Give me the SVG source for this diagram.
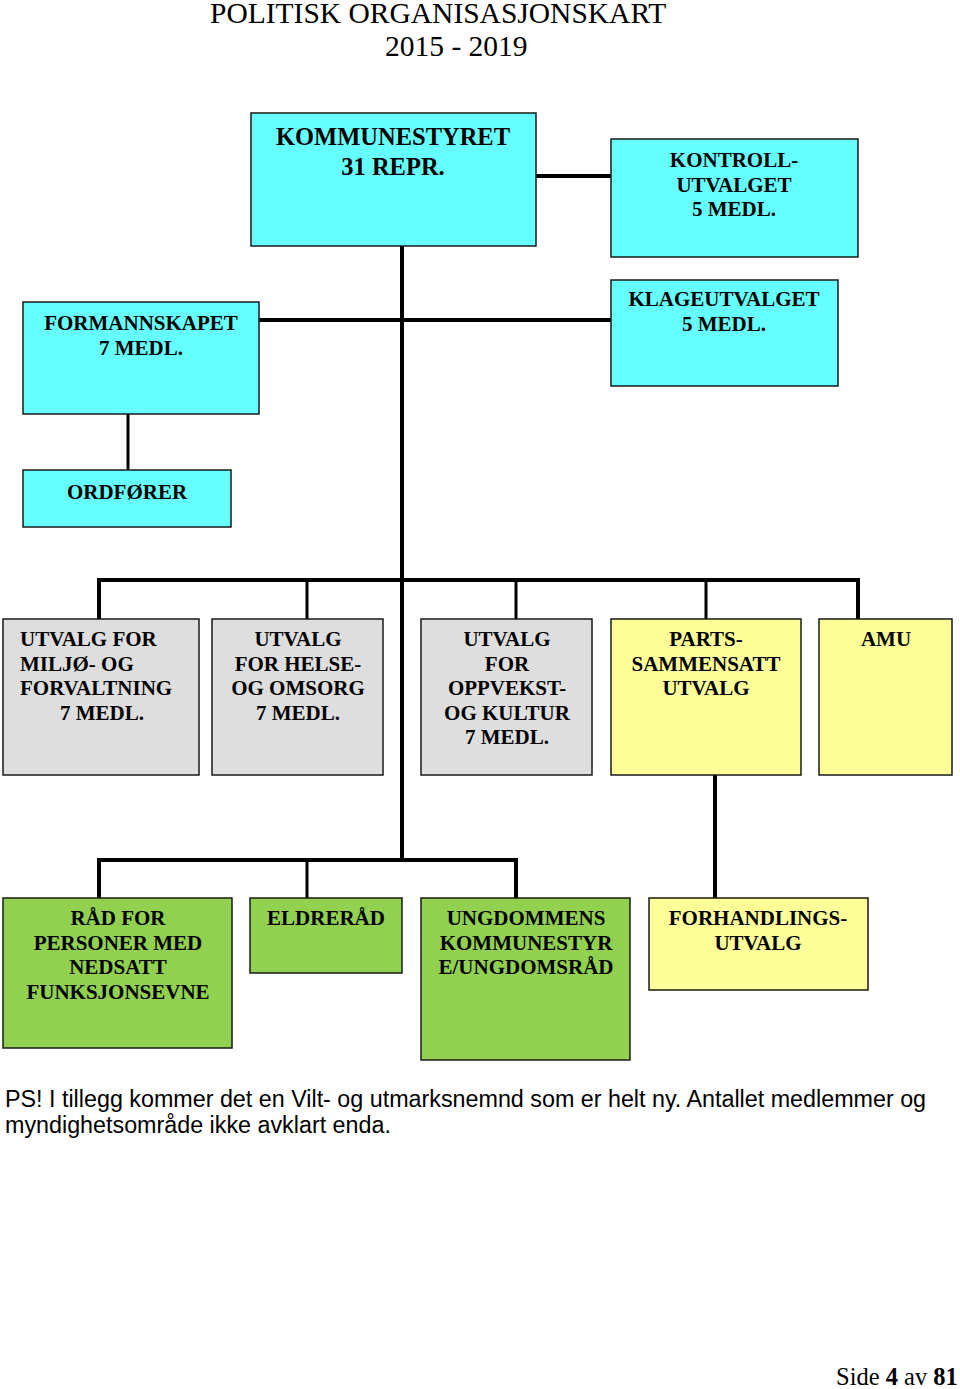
<svg xmlns="http://www.w3.org/2000/svg" width="960" height="1389" viewBox="0 0 960 1389">
<style>
.box{stroke:#1a1a1a;stroke-width:1.5}
.cy{fill:#66ffff}
.gr{fill:#dedede}
.ye{fill:#ffff99}
.gn{fill:#92d050}
.t{font-family:"Liberation Serif","Times New Roman",serif;font-weight:bold;font-size:21px;fill:#000;text-anchor:middle}
.tl{text-anchor:start}
.ln{stroke:#000;fill:none;stroke-width:4}
.ln3{stroke:#000;fill:none;stroke-width:3}
.title{font-family:"Liberation Serif","Times New Roman",serif;font-size:29.5px;fill:#000}
.ps{font-family:"Liberation Sans",Arial,sans-serif;font-size:23.3px;fill:#000}
.pg{font-family:"Liberation Serif","Times New Roman",serif;font-size:24.5px;fill:#000}
</style>
<rect width="960" height="1389" fill="#fff"/>
<text class="title" x="210" y="23">POLITISK ORGANISASJONSKART</text>
<text class="title" x="385" y="56">2015 - 2019</text>

<g id="connectors">
<line class="ln" x1="536" y1="176" x2="611" y2="176"/>
<line class="ln" x1="402" y1="246" x2="402" y2="862"/>
<line class="ln" x1="259" y1="320" x2="611" y2="320"/>
<line class="ln3" x1="128" y1="414" x2="128" y2="470"/>
<line class="ln" x1="97" y1="580" x2="860" y2="580"/>
<line class="ln" x1="99" y1="578" x2="99" y2="619"/>
<line class="ln3" x1="307" y1="580" x2="307" y2="619"/>
<line class="ln3" x1="516" y1="580" x2="516" y2="619"/>
<line class="ln3" x1="706" y1="580" x2="706" y2="619"/>
<line class="ln" x1="858" y1="578" x2="858" y2="619"/>
<line class="ln" x1="715" y1="775" x2="715" y2="898"/>
<line class="ln" x1="97" y1="860" x2="518" y2="860"/>
<line class="ln" x1="99" y1="858" x2="99" y2="898"/>
<line class="ln3" x1="307" y1="860" x2="307" y2="898"/>
<line class="ln" x1="516" y1="858" x2="516" y2="898"/>
</g>

<g id="kommunestyret">
<rect class="box cy" x="251" y="113" width="285" height="133"/>
<text class="t" x="393" y="145" style="font-size:24.5px">KOMMUNESTYRET</text>
<text class="t" x="393" y="175" style="font-size:24.5px">31 REPR.</text>
</g>
<g id="kontrollutvalget">
<rect class="box cy" x="611" y="139" width="247" height="118"/>
<text class="t" x="734" y="167">KONTROLL-</text>
<text class="t" x="734" y="192">UTVALGET</text>
<text class="t" x="734" y="216">5 MEDL.</text>
</g>
<g id="formannskapet">
<rect class="box cy" x="23" y="302" width="236" height="112"/>
<text class="t" x="141" y="330">FORMANNSKAPET</text>
<text class="t" x="141" y="355">7 MEDL.</text>
</g>
<g id="klageutvalget">
<rect class="box cy" x="611" y="280" width="227" height="106"/>
<text class="t" x="724" y="306">KLAGEUTVALGET</text>
<text class="t" x="724" y="331">5 MEDL.</text>
</g>
<g id="ordforer">
<rect class="box cy" x="23" y="470" width="208" height="57"/>
<text class="t" x="127" y="499">ORDFØRER</text>
</g>

<g id="miljo">
<rect class="box gr" x="3" y="619" width="196" height="156"/>
<text class="t tl" x="20" y="646">UTVALG FOR</text>
<text class="t tl" x="20" y="671">MILJØ- OG</text>
<text class="t tl" x="20" y="695">FORVALTNING</text>
<text class="t" x="102" y="720">7 MEDL.</text>
</g>
<g id="helse">
<rect class="box gr" x="212" y="619" width="171" height="156"/>
<text class="t" x="298" y="646">UTVALG</text>
<text class="t" x="298" y="671">FOR HELSE-</text>
<text class="t" x="298" y="695">OG OMSORG</text>
<text class="t" x="298" y="720">7 MEDL.</text>
</g>
<g id="oppvekst">
<rect class="box gr" x="421" y="619" width="171" height="156"/>
<text class="t" x="507" y="646">UTVALG</text>
<text class="t" x="507" y="671">FOR</text>
<text class="t" x="507" y="695">OPPVEKST-</text>
<text class="t" x="507" y="720">OG KULTUR</text>
<text class="t" x="507" y="744">7 MEDL.</text>
</g>
<g id="partssammensatt">
<rect class="box ye" x="611" y="619" width="190" height="156"/>
<text class="t" x="706" y="646">PARTS-</text>
<text class="t" x="706" y="671">SAMMENSATT</text>
<text class="t" x="706" y="695">UTVALG</text>
</g>
<g id="amu">
<rect class="box ye" x="819" y="619" width="133" height="156"/>
<text class="t" x="886" y="646">AMU</text>
</g>

<g id="rad">
<rect class="box gn" x="3" y="898" width="229" height="150"/>
<text class="t" x="118" y="925">RÅD FOR</text>
<text class="t" x="118" y="950">PERSONER MED</text>
<text class="t" x="118" y="974">NEDSATT</text>
<text class="t" x="118" y="999">FUNKSJONSEVNE</text>
</g>
<g id="eldrerad">
<rect class="box gn" x="250" y="898" width="152" height="75"/>
<text class="t" x="326" y="925">ELDRERÅD</text>
</g>
<g id="ungdom">
<rect class="box gn" x="421" y="898" width="209" height="162"/>
<text class="t" x="526" y="925">UNGDOMMENS</text>
<text class="t" x="526" y="950">KOMMUNESTYR</text>
<text class="t" x="526" y="974">E/UNGDOMSRÅD</text>
</g>
<g id="forhandling">
<rect class="box ye" x="649" y="898" width="219" height="92"/>
<text class="t" x="758" y="925">FORHANDLINGS-</text>
<text class="t" x="758" y="950">UTVALG</text>
</g>

<text class="ps" x="5" y="1107">PS! I tillegg kommer det en Vilt- og utmarksnemnd som er helt ny. Antallet medlemmer og</text>
<text class="ps" x="5" y="1133">myndighetsområde ikke avklart enda.</text>
<text class="pg" x="836" y="1385">Side <tspan font-weight="bold">4</tspan> av <tspan font-weight="bold">81</tspan></text>
</svg>
